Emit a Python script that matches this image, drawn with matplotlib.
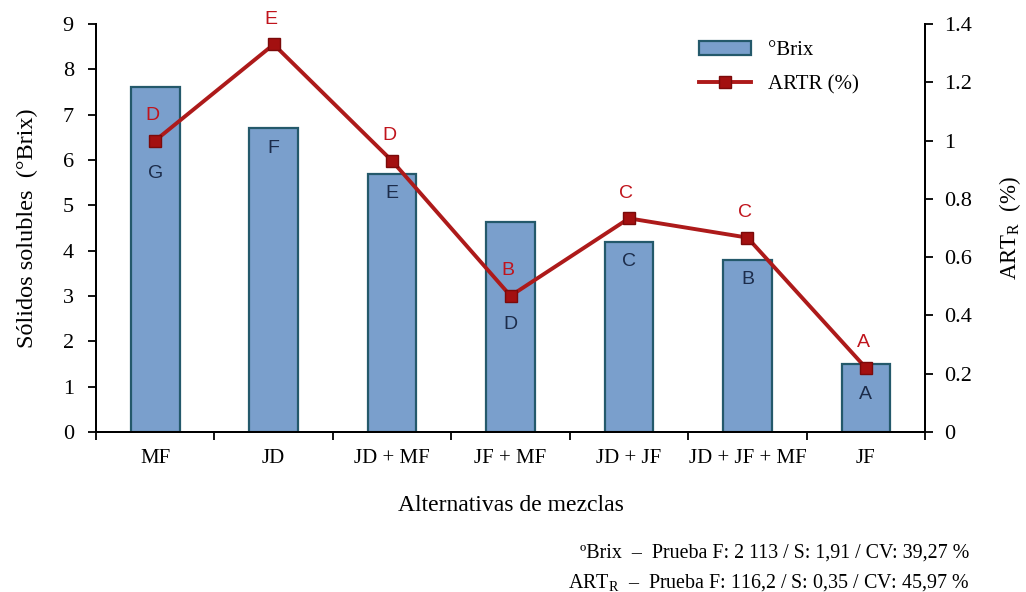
import numpy as np
import matplotlib
matplotlib.use("Agg")
import matplotlib.pyplot as plt
from matplotlib.ticker import FixedLocator

##############################################
# Data
##############################################
mezclas = ["MF", "JD", "JD + MF", "JF + MF", "JD + JF", "JD + JF + MF", "JF"]
brix = [7.6, 6.7, 5.7, 4.63, 4.2, 3.8, 1.5]
artr = [1.0, 1.33, 0.93, 0.467, 0.733, 0.667, 0.22]
letras_brix = ["G", "F", "E", "D", "C", "B", "A"]
letras_artr = ["D", "E", "D", "B", "C", "C", "A"]

ticks_brix = [0, 1, 2, 3, 4, 5, 6, 7, 8, 9]
ticks_artr = [0, 0.2, 0.4, 0.6, 0.8, 1.0, 1.2, 1.4]
ticks_artr_txt = ["0", "0.2", "0.4", "0.6", "0.8", "1", "1.2", "1.4"]

nota_brix = "ºBrix  \u2013  Prueba F: 2 113 / S: 1,91 / CV: 39,27 %"
nota_artr = "ART$_{\\mathrm{R}}$  \u2013  Prueba F: 116,2 / S: 0,35 / CV: 45,97 %"

##############################################
# Style
##############################################
plt.rcParams["font.family"] = ["Liberation Serif", "DejaVu Serif"]
plt.rcParams["mathtext.fontset"] = "custom"
plt.rcParams["mathtext.rm"] = "Liberation Serif"
plt.rcParams["mathtext.it"] = "Liberation Serif:italic"

BAR_FILL = "#7a9fcc"
BAR_EDGE = "#24596b"
LINE_RED = "#ad1a1a"
LETTER_DARK = "#1c2c4a"
SANS = ["Liberation Sans", "DejaVu Sans"]

##############################################
# Plot
##############################################
fig = plt.figure(figsize=(10.26, 5.92), dpi=100)
ax = fig.add_axes([0.0936, 0.2703, 0.808, 0.6892])
ax2 = ax.twinx()

x = np.arange(len(mezclas))

bars = ax.bar(x, brix, width=0.41, color=BAR_FILL, edgecolor=BAR_EDGE,
              linewidth=1.6, label="°Brix", zorder=2)
ln, = ax2.plot(x, artr, color=LINE_RED, linewidth=2.8, marker="s",
               markersize=9, markerfacecolor="#a31010",
               markeredgecolor="#7a0a0a", markeredgewidth=1.0,
               label="ARTR (%)", zorder=3)

# letters inside the bars (shifted down where a marker sits on them)
bar_offsets = [-1.9, -0.44, -0.44, -2.27, -0.44, -0.44, -0.68]
for xi, b, off, let in zip(x, brix, bar_offsets, letras_brix):
    ax.text(xi, b + off, let, ha="center", va="center", fontsize=14,
            color=LETTER_DARK, family=SANS, zorder=4)

# letters above the line markers
for xi, a, let in zip(x, artr, letras_artr):
    ax2.annotate(let, (xi, a), xytext=(-2, 18), textcoords="offset points",
                 ha="center", va="center", fontsize=14, color="#c0141c",
                 family=SANS, zorder=4)

# axes limits and ticks
ax.set_xlim(-0.5, len(mezclas) - 0.5)
ax.set_ylim(0, 9)
ax2.set_ylim(0, 1.4)
ax.set_yticks(ticks_brix)
ax2.set_yticks(ticks_artr)
ax2.set_yticklabels(ticks_artr_txt)

ax.set_xticks(x)
ax.set_xticklabels(mezclas)
ax.xaxis.set_minor_locator(FixedLocator(np.arange(-0.5, len(mezclas), 1)))
ax.tick_params(axis="x", which="major", length=0, pad=12, labelsize=15)
ax.tick_params(axis="x", which="minor", length=6, width=1.3, direction="out")
ax.tick_params(axis="y", length=6, width=1.3, direction="out", labelsize=16, pad=10)
ax2.tick_params(axis="y", length=6, width=1.3, direction="out", labelsize=16, pad=8)

for a in (ax, ax2):
    a.spines["top"].set_visible(False)
    for s in ("left", "right", "bottom"):
        a.spines[s].set_linewidth(1.4)

ax.set_xlabel("Alternativas de mezclas", fontsize=17, labelpad=20)
ax.set_ylabel("Sólidos solubles  (°Brix)", fontsize=17.5, labelpad=18)
ax2.set_ylabel("ART$_{\\mathrm{R}}$  (%)", fontsize=16.5, labelpad=18)

# legend
ax2.legend([bars, ln], ["°Brix", "ARTR (%)"], loc="upper left",
           bbox_to_anchor=(0.705, 1.005), frameon=False, fontsize=15,
           handlelength=2.5, handleheight=0.7, labelspacing=0.7)

# statistics notes
fig.text(0.945, 1 - 553 / 592, nota_brix, ha="right", va="center", fontsize=14.4)
fig.text(0.945, 1 - 583 / 592, nota_artr, ha="right", va="center", fontsize=14.4)

fig.savefig("out.png", dpi=100)
